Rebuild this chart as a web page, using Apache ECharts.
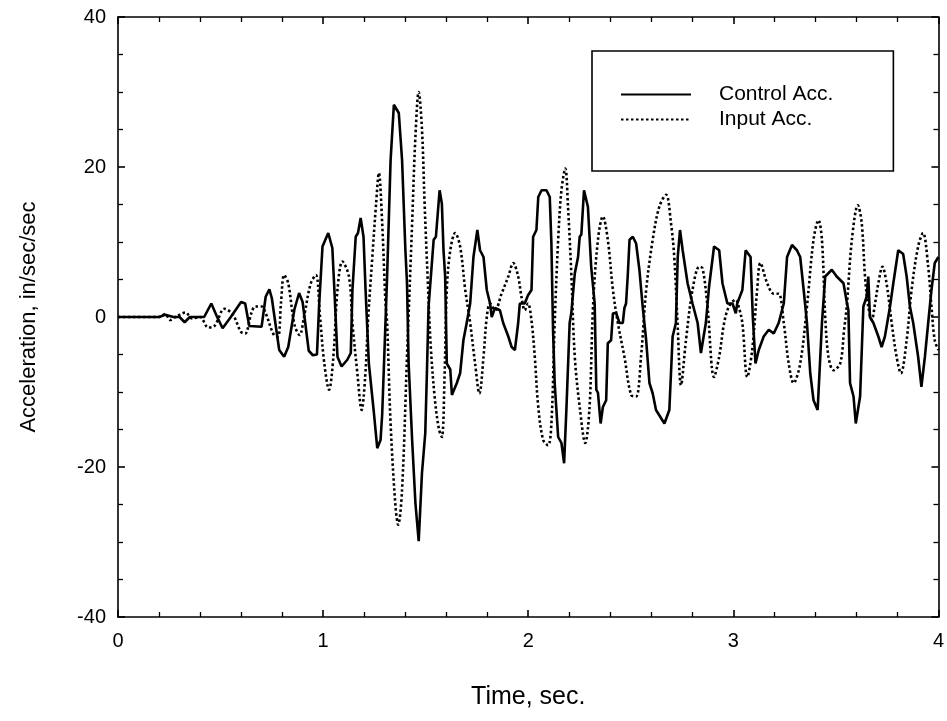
<!DOCTYPE html>
<html>
<head>
<meta charset="utf-8">
<script src="https://cdn.jsdelivr.net/npm/echarts@6/dist/echarts.min.js"></script>
<style>
html,body{margin:0;padding:0;background:#fff;}
#chart{width:947px;height:721px;}
</style>
</head>
<body>
<div id="chart"></div>
<script>
// Tick labels
const xTicks = [0, 1, 2, 3, 4];
const yTicks = [-40, -20, 0, 20, 40];

// Control Acc. (solid) — time (s) and acceleration (in/sec/sec)
const ctrlT = [0,0.20,0.23,0.27,0.30,0.325,0.35,0.42,0.455,0.48,0.51,0.55,0.60,0.62,0.64,0.70,0.72,0.738,0.75,0.786,0.81,0.83,0.86,0.883,0.90,0.93,0.95,0.97,0.981,0.997,1.025,1.045,1.055,1.07,1.09,1.118,1.135,1.143,1.159,1.17,1.183,1.197,1.207,1.215,1.223,1.247,1.264,1.28,1.288,1.304,1.312,1.329,1.337,1.345,1.369,1.385,1.401,1.409,1.417,1.434,1.450,1.466,1.482,1.498,1.506,1.514,1.539,1.55,1.568,1.579,1.587,1.595,1.603,1.62,1.628,1.652,1.668,1.684,1.70,1.717,1.733,1.752,1.765,1.782,1.798,1.814,1.822,1.838,1.862,1.878,1.903,1.919,1.935,1.951,1.959,1.983,1.999,2.016,2.024,2.04,2.049,2.065,2.089,2.105,2.113,2.121,2.129,2.146,2.162,2.175,2.186,2.194,2.202,2.210,2.227,2.243,2.251,2.259,2.272,2.291,2.299,2.307,2.324,2.332,2.340,2.353,2.364,2.380,2.388,2.404,2.413,2.429,2.445,2.461,2.469,2.477,2.485,2.494,2.510,2.526,2.542,2.558,2.575,2.591,2.607,2.623,2.664,2.688,2.704,2.720,2.729,2.740,2.753,2.777,2.801,2.826,2.842,2.866,2.882,2.906,2.931,2.947,2.971,2.996,3.012,3.019,3.044,3.060,3.084,3.095,3.108,3.124,3.148,3.173,3.197,3.221,3.246,3.262,3.286,3.310,3.326,3.343,3.359,3.375,3.391,3.411,3.42,3.432,3.448,3.480,3.504,3.537,3.553,3.561,3.569,3.586,3.597,3.618,3.634,3.650,3.658,3.666,3.683,3.707,3.723,3.739,3.764,3.780,3.804,3.828,3.845,3.861,3.877,3.901,3.917,3.934,3.950,3.966,3.982,4.0];
const ctrlV = [0,0,0.3,0,0,-0.7,0,0,1.8,0.2,-1.5,0,2.0,1.8,-1.2,-1.3,2.7,3.7,2.5,-4.4,-5.3,-4.0,1.0,3.2,2.0,-4.5,-5.1,-5.0,1.8,9.4,11.2,9.2,3.6,-5.3,-6.6,-5.7,-4.8,3.6,10.7,11.2,13.2,10.7,3.6,3.4,-6.2,-12.6,-17.5,-16.4,-13,-0.8,5.4,20.9,21.0,28.3,27.2,20.9,9.0,4.5,-6.2,-16.4,-24.8,-29.9,-20.8,-15.5,-7.5,1.3,10.3,10.7,16.9,15.1,8.9,5.4,-6.2,-7.0,-10.4,-8.8,-7.5,-3.1,-0.8,1.8,8.0,11.6,8.9,8.0,3.6,1.8,0,1.2,0.9,-0.8,-2.6,-4.0,-4.4,-0.8,1.8,1.8,2.9,3.6,10.7,11.6,16.0,16.9,16.9,16.0,9.8,-1.7,-8.8,-16.0,-16.8,-19.5,-12.4,-12.4,-0.8,0.5,5.8,8.0,10.7,11.0,16.9,14.7,10.7,6.7,1.8,-9.7,-10.1,-14.2,-12,-11.1,-3.5,-3.1,0.5,0.5,-0.8,-0.8,1.2,1.8,5.4,10.3,10.7,9.8,6.3,1.4,-3.1,-8.8,-10.2,-12.4,-14.2,-12.4,-2.6,-0.8,8.0,11.6,8.9,4.5,1.8,-0.8,-4.8,-0.8,4.1,9.4,8.9,4.5,1.8,1.8,0.5,1.8,3.6,8.9,8.0,0,-6.2,-4.4,-2.6,-1.7,-2.2,-0.8,1.8,8.0,9.6,8.9,8.0,3.6,-0.8,-7.5,-11.1,-12.4,-7.5,-0.8,5.4,6.3,5.4,4.5,2.0,0.9,-8.8,-10.6,-14.2,-10.6,1.4,2.7,5.4,0,-0.8,-2.6,-4.0,-2.6,1.4,4.5,8.9,8.4,5.4,1.4,-0.8,-5.3,-9.3,-5.3,-0.8,3.6,7.2,8.0];

// Input Acc. (dotted)
const inT = [0,0.20,0.23,0.255,0.28,0.33,0.36,0.40,0.44,0.47,0.52,0.56,0.60,0.62,0.65,0.67,0.70,0.72,0.76,0.78,0.795,0.81,0.83,0.86,0.885,0.91,0.94,0.965,0.985,1.005,1.029,1.05,1.07,1.094,1.126,1.143,1.167,1.188,1.205,1.22,1.240,1.258,1.272,1.288,1.304,1.312,1.329,1.353,1.366,1.385,1.409,1.434,1.450,1.466,1.482,1.495,1.51,1.525,1.545,1.565,1.579,1.592,1.603,1.620,1.644,1.668,1.693,1.717,1.741,1.762,1.782,1.798,1.814,1.838,1.870,1.903,1.927,1.951,1.967,1.983,1.999,2.016,2.032,2.049,2.073,2.097,2.113,2.129,2.146,2.162,2.181,2.194,2.210,2.227,2.251,2.278,2.299,2.316,2.340,2.364,2.388,2.413,2.437,2.469,2.502,2.526,2.550,2.575,2.607,2.639,2.672,2.696,2.712,2.728,2.745,2.769,2.801,2.834,2.850,2.874,2.906,2.931,2.955,2.979,3.012,3.025,3.044,3.068,3.092,3.116,3.132,3.165,3.197,3.221,3.246,3.270,3.294,3.326,3.359,3.391,3.415,3.432,3.448,3.464,3.488,3.521,3.540,3.553,3.578,3.607,3.626,3.642,3.658,3.675,3.691,3.707,3.727,3.747,3.772,3.796,3.817,3.845,3.869,3.901,3.925,3.950,3.966,3.982,4.0];
const inV = [0,0,0.4,-0.4,0,0.6,-0.2,0,-1.4,-1.2,1.1,0.3,-2.0,-2.2,0.5,1.4,1.4,0.5,-2.4,-2.6,2.0,5.6,4.5,-1.0,-2.4,0.5,4.5,5.6,0,-6,-9.7,-5.3,3.6,7.4,5.4,-0.8,-7.5,-12.4,-8,0,8.0,15,19.2,12.5,2,-0.8,-14.2,-25.3,-27.7,-23.0,-5.3,12.5,24,30,25,15,5,-4,-11,-15,-16,-8,3.6,8.9,11.2,9.4,3.6,-0.8,-6.2,-10.2,-5.3,0,1.8,0.9,3.1,5.4,7.2,5.4,2.7,0.9,1.8,-0.5,-5.3,-12.0,-16.4,-17.1,-14.2,-0.8,10.3,16.9,19.8,14.7,5.8,-5.3,-12.0,-16.8,-12.0,1.4,10.3,13.4,10.3,3.6,-0.8,-5.3,-10.4,-10.6,-5.3,3.6,10.3,14.7,16.3,12.5,8.0,-0.8,-9.1,-3.1,3.6,6.7,6.5,1.4,-8.0,-5.3,-0.8,1.4,2.3,1.5,-0.8,-8.0,-4.4,3.6,7.2,4.5,3.1,3.1,-0.8,-6.2,-8.8,-6.2,1.4,10.3,12.9,10.3,0,-5.3,-7.1,-6.2,-1.7,1.4,10.3,14.9,12.5,5.4,1.4,-0.4,1.8,4.5,6.7,4.5,-0.8,-5.3,-7.5,-3.1,3.6,9.4,11.2,6.7,1.4,-3.1,-4.4];

const FONT = '"Liberation Sans", Arial, Helvetica, sans-serif';
const pair = (ts, vs) => ts.map((t, i) => [t, vs[i]]);

const chart = echarts.init(document.getElementById('chart'), null, {renderer: 'canvas'});

function xAx(pos, showLabel, name) {
  return {
    type: 'value', position: pos, min: xTicks[0], max: xTicks[xTicks.length - 1], interval: 1,
    name: name || '', nameLocation: 'middle', nameGap: 68,
    nameTextStyle: {fontFamily: FONT, fontSize: 25, color: '#000'},
    axisLine: {show: true, onZero: false, lineStyle: {color: '#000', width: 1.6}},
    axisTick: {show: true, inside: true, length: 7, lineStyle: {color: '#000', width: 1.6}},
    minorTick: {show: true, splitNumber: 5, length: 5, lineStyle: {color: '#000', width: 1.3}},
    splitLine: {show: false},
    axisLabel: {show: showLabel, fontFamily: FONT, fontSize: 20, color: '#000', margin: 14}
  };
}
function yAx(pos, showLabel, name) {
  return {
    type: 'value', position: pos, min: yTicks[0], max: yTicks[yTicks.length - 1], interval: 20,
    name: name || '', nameLocation: 'middle', nameGap: 78,
    nameTextStyle: {fontFamily: FONT, fontSize: 22, color: '#000'},
    axisLine: {show: true, onZero: false, lineStyle: {color: '#000', width: 1.6}},
    axisTick: {show: true, inside: true, length: 7, lineStyle: {color: '#000', width: 1.6}},
    minorTick: {show: true, splitNumber: 4, length: 5, lineStyle: {color: '#000', width: 1.3}},
    splitLine: {show: false},
    axisLabel: {show: showLabel, fontFamily: FONT, fontSize: 20, color: '#000', margin: 12}
  };
}

chart.setOption({
  animation: false,
  backgroundColor: '#fff',
  grid: {left: 118, right: 5, top: 17, bottom: 104, containLabel: false},
  xAxis: [xAx('bottom', true, 'Time, sec.'), xAx('top', false)],
  yAxis: [yAx('left', true, 'Acceleration, in/sec/sec'), yAx('right', false)],
  legend: {
    show: true, orient: 'vertical', left: 592, top: 51,
    backgroundColor: '#fff',
    borderColor: '#000', borderWidth: 1.6, borderRadius: 0,
    padding: [31, 60, 39, 28],
    itemGap: 0, itemWidth: 70, itemHeight: 14,
    itemStyle: {opacity: 0},
    textStyle: {fontFamily: FONT, fontSize: 21, color: '#000', lineHeight: 25, padding: [0, 0, 0, 23]},
    data: ['Control Acc.', 'Input Acc.']
  },
  series: [
    {
      name: 'Control Acc.', type: 'line', xAxisIndex: 0, yAxisIndex: 0,
      data: pair(ctrlT, ctrlV), showSymbol: false, symbol: 'none',
      lineStyle: {color: '#000', width: 2.6, type: 'solid'},
      itemStyle: {color: '#000'}
    },
    {
      name: 'Input Acc.', type: 'line', xAxisIndex: 0, yAxisIndex: 0,
      data: pair(inT, inV), showSymbol: false, symbol: 'none', smooth: 0.35,
      lineStyle: {color: '#000', width: 2.6, type: [2.5, 2.5]},
      itemStyle: {color: '#000'}
    }
  ]
});
</script>
</body>
</html>
